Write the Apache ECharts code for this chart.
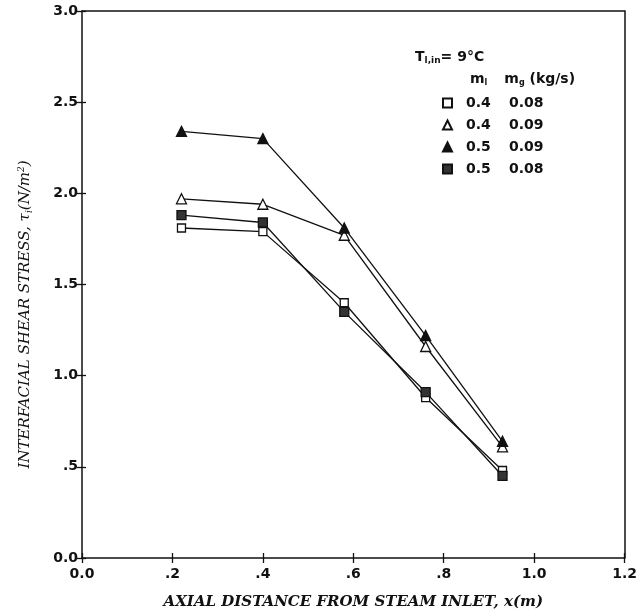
<!DOCTYPE html>
<html>
<head>
<meta charset="utf-8">
<script src="https://cdn.jsdelivr.net/npm/echarts@6/dist/echarts.min.js"></script>
<style>
  html, body { margin: 0; padding: 0; background: #fff; }
  #chart { width: 640px; height: 615px; }
</style>
</head>
<body>
<div id="chart"></div>
<script>
// axial positions (m)
var xPos = [0.22, 0.40, 0.58, 0.76, 0.93];
// interfacial shear stress (N/m^2), one array per run
var sqOpen = [1.81, 1.79, 1.40, 0.88, 0.48];   // m_l 0.4, m_g 0.08
var triOpen = [1.97, 1.94, 1.77, 1.16, 0.61];  // m_l 0.4, m_g 0.09
var triFill = [2.34, 2.30, 1.81, 1.22, 0.64];  // m_l 0.5, m_g 0.09
var sqFill = [1.88, 1.84, 1.35, 0.91, 0.45];   // m_l 0.5, m_g 0.08
var runNames = ['0.4|0.08', '0.4|0.09', '0.5|0.09', '0.5|0.08'];

function pairs(ys) {
    var out = [];
    for (var i = 0; i < xPos.length; i++) out.push([xPos[i], ys[i]]);
    return out;
}
function tickLabel(v) {
    if (v === 0) return '0.0';
    if (v < 1) return v.toFixed(1).replace('0.', '.');
    return v.toFixed(1);
}

var sans = 'DejaVu Sans';
var serif = 'DejaVu Serif';

var styles = [
    { symbol: 'rect', size: 8, fill: '#fff' },
    { symbol: 'triangle', size: 10, fill: '#fff' },
    { symbol: 'triangle', size: 10, fill: '#111' },
    { symbol: 'rect', size: 9, fill: '#333' }
];
var dataSets = [sqOpen, triOpen, triFill, sqFill];

var seriesData = [];
var legendData = [];
for (var i = 0; i < dataSets.length; i++) {
    seriesData.push({
        name: runNames[i],
        type: 'line',
        data: pairs(dataSets[i]),
        symbol: styles[i].symbol,
        symbolSize: styles[i].size,
        showAllSymbol: true,
        lineStyle: { color: '#111', width: 1.3 },
        itemStyle: { color: styles[i].fill, borderColor: '#111', borderWidth: 1.3 },
        emphasis: { disabled: true },
        z: 3
    });
    legendData.push({ name: runNames[i], icon: styles[i].symbol });
}

var chart = echarts.init(document.getElementById('chart'));
var option = {
    animation: false,
    backgroundColor: '#fff',
    grid: { left: 82, right: 11, top: 11, bottom: 55 },
    legend: {
        orient: 'vertical',
        left: 437,
        top: 91,
        itemWidth: 9,
        itemHeight: 9,
        itemGap: 8,
        data: legendData,
        selectedMode: false,
        formatter: function (name) {
            var p = name.split('|');
            return '{a|' + p[0] + '}{b|' + p[1] + '}';
        },
        textStyle: {
            rich: {
                a: { fontFamily: sans, fontWeight: 'bold', fontSize: 14, color: '#111', width: 43, padding: [0, 0, 0, 9] },
                b: { fontFamily: sans, fontWeight: 'bold', fontSize: 14, color: '#111' }
            }
        }
    },
    graphic: [
        {
            type: 'text', left: 415, top: 50,
            style: {
                text: '{t|T}{s|l,in}{t|= 9°C}',
                rich: {
                    t: { fontFamily: sans, fontWeight: 'bold', fontSize: 14, fill: '#111' },
                    s: { fontFamily: sans, fontWeight: 'bold', fontSize: 9, fill: '#111', verticalAlign: 'bottom', padding: [8, 0, 0, 0] }
                }
            }
        },
        {
            type: 'text', left: 470, top: 72,
            style: {
                text: '{t|m}{s|l}{g| }{t|m}{s|g}{t| (kg/s)}',
                rich: {
                    t: { fontFamily: sans, fontWeight: 'bold', fontSize: 14, fill: '#111' },
                    s: { fontFamily: sans, fontWeight: 'bold', fontSize: 8, fill: '#111', verticalAlign: 'bottom', padding: [8, 0, 0, 0] },
                    g: { fontSize: 5, width: 17 }
                }
            }
        }
    ],
    xAxis: [
        {
            type: 'value', min: 0, max: 1.2, interval: 0.2,
            name: 'AXIAL DISTANCE FROM STEAM INLET, x(m)',
            nameLocation: 'middle', nameGap: 37,
            nameTextStyle: { fontFamily: serif, fontStyle: 'italic', fontWeight: 'bold', fontSize: 15, color: '#111' },
            axisLine: { show: true, onZero: false, lineStyle: { color: '#111', width: 1.5 } },
            axisTick: { show: true, inside: false, length: 5, lineStyle: { color: '#111', width: 1.3 } },
            axisLabel: { formatter: tickLabel, fontFamily: sans, fontWeight: 'bold', fontSize: 14, color: '#111', margin: 9 },
            splitLine: { show: false }
        },
        {
            type: 'value', min: 0, max: 1.2, interval: 0.2, position: 'bottom', offset: 0,
            axisLine: { show: false },
            axisTick: { show: true, inside: true, length: 5, lineStyle: { color: '#111', width: 1.3 } },
            axisLabel: { show: false },
            splitLine: { show: false }
        },
        {
            type: 'value', min: 0, max: 1.2, interval: 0.2, position: 'top',
            axisLine: { show: true, onZero: false, lineStyle: { color: '#111', width: 1.5 } },
            axisTick: { show: false },
            axisLabel: { show: false },
            splitLine: { show: false }
        }
    ],
    yAxis: [
        {
            type: 'value', min: 0, max: 3, interval: 0.5,
            name: '{t|INTERFACIAL SHEAR STRESS, τ}{s|i}{t|(N/m}{p|2}{t|)}',
            nameLocation: 'middle', nameGap: 48,
            nameTextStyle: {
                padding: [0, 60, 0, 0],
                rich: {
                    t: { fontFamily: serif, fontStyle: 'italic', fontSize: 15, color: '#111' },
                    s: { fontFamily: serif, fontStyle: 'italic', fontSize: 9, color: '#111', verticalAlign: 'bottom', padding: [8, 0, 0, 0] },
                    p: { fontFamily: serif, fontStyle: 'italic', fontSize: 9, color: '#111', verticalAlign: 'top', padding: [0, 0, 8, 0] }
                }
            },
            axisLine: { show: true, onZero: false, lineStyle: { color: '#111', width: 1.5 } },
            axisTick: { show: true, inside: false, length: 5, lineStyle: { color: '#111', width: 1.3 } },
            axisLabel: { formatter: tickLabel, fontFamily: sans, fontWeight: 'bold', fontSize: 14, color: '#111', margin: 4 },
            splitLine: { show: false }
        },
        {
            type: 'value', min: 0, max: 3, interval: 0.5, position: 'left', offset: 0,
            axisLine: { show: false },
            axisTick: { show: true, inside: true, length: 4, lineStyle: { color: '#111', width: 1.3 } },
            axisLabel: { show: false },
            splitLine: { show: false }
        },
        {
            type: 'value', min: 0, max: 3, interval: 0.5, position: 'right',
            axisLine: { show: true, onZero: false, lineStyle: { color: '#111', width: 1.5 } },
            axisTick: { show: false },
            axisLabel: { show: false },
            splitLine: { show: false }
        }
    ],
    series: seriesData
};
chart.setOption(option);
</script>
</body>
</html>
